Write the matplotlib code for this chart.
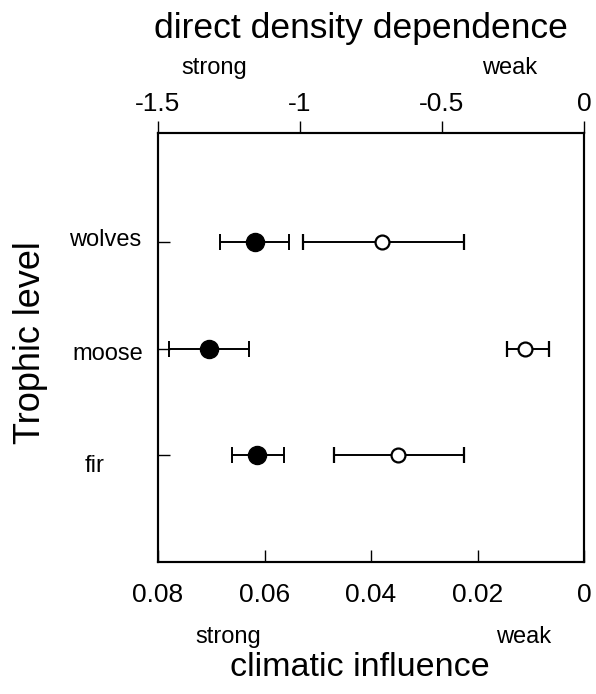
import matplotlib
matplotlib.use("Agg")
import matplotlib.pyplot as plt
import matplotlib.transforms as mtransforms
import numpy as np

plt.rcParams['font.family'] = ['Liberation Sans', 'DejaVu Sans']

# Data
levels = ["fir", "moose", "wolves"]
level_pos = [1, 2, 3]
# direct density dependence (filled, top axis)
dd_mean = [-1.15, -1.32, -1.16]
dd_lo = [-1.24, -1.46, -1.28]
dd_hi = [-1.055, -1.18, -1.04]
# climatic influence (open, bottom axis)
cl_mean = [0.035, 0.011, 0.038]
cl_lo = [0.0225, 0.0065, 0.0226]
cl_hi = [0.047, 0.0145, 0.0527]

top_ticks = [-1.5, -1.0, -0.5, 0.0]
top_labels = ["-1.5", "-1", "-0.5", "0"]
bot_ticks = [0.08, 0.06, 0.04, 0.02, 0.0]
bot_labels = ["0.08", "0.06", "0.04", "0.02", "0"]

fig = plt.figure(figsize=(5.96, 6.94), dpi=100)
ax = fig.add_axes([158/596, 1-562/694, 426/596, (562-133)/694])
ax2 = ax.twiny()

lw = 1.4
# bottom axis: climatic influence (open circles)
cl_mean_a = np.array(cl_mean)
xerr_cl = [cl_mean_a - np.array(cl_lo), np.array(cl_hi) - cl_mean_a]
ax.errorbar(cl_mean, level_pos, xerr=xerr_cl, fmt='o', color='black',
            mfc='white', mec='black', mew=1.6, ms=10, elinewidth=lw,
            capsize=5.5, capthick=lw, zorder=3)
ax.set_xlim(0.08, 0.0)
ax.set_ylim(0, 4.02)
ax.set_xticks(bot_ticks)
ax.set_xticklabels(bot_labels)
ax.tick_params(axis='x', direction='in', length=8.5, width=1, labelsize=19, pad=15)
ax.set_yticks(level_pos)
ax.set_yticklabels(levels)
ax.tick_params(axis='y', direction='in', length=8.5, width=1, labelsize=17, pad=38)
# per-label nudges (points) to follow the reference placement
nudges = {"fir": (-8, -6), "moose": (2, -2), "wolves": (0, 3)}
for lab in ax.get_yticklabels():
    lab.set_horizontalalignment('center')
    dx, dy = nudges[lab.get_text()]
    lab.set_transform(lab.get_transform() +
                      mtransforms.ScaledTranslation(dx/72, dy/72, fig.dpi_scale_trans))

# top axis: direct density dependence (filled circles)
dd_mean_a = np.array(dd_mean)
xerr_dd = [dd_mean_a - np.array(dd_lo), np.array(dd_hi) - dd_mean_a]
ax2.errorbar(dd_mean, level_pos, xerr=xerr_dd, fmt='o', color='black',
             mfc='black', mec='black', ms=13, elinewidth=lw,
             capsize=5.5, capthick=lw, zorder=3)
ax2.set_xlim(-1.5, 0.0)
ax2.set_xticks(top_ticks)
ax2.set_xticklabels(top_labels)
ax2.tick_params(axis='x', direction='out', length=8.5, width=1, labelsize=19, pad=4)

for a in (ax, ax2):
    for s in a.spines.values():
        s.set_linewidth(1.5)

fig.text(361/596, 1-38/694, "direct density dependence", ha='center', va='baseline', fontsize=25.5)
fig.text(214/596, 1-74/694, "strong", ha='center', va='baseline', fontsize=17)
fig.text(510/596, 1-74/694, "weak", ha='center', va='baseline', fontsize=17)
fig.text(228/596, 1-643/694, "strong", ha='center', va='baseline', fontsize=17)
fig.text(524/596, 1-643/694, "weak", ha='center', va='baseline', fontsize=17)
fig.text(360/596, 1-676/694, "climatic influence", ha='center', va='baseline', fontsize=24.5)
fig.text(31/596, 1-343/694, "Trophic level", ha='center', va='center', rotation=90, fontsize=26)

fig.savefig("out.png", dpi=100)
